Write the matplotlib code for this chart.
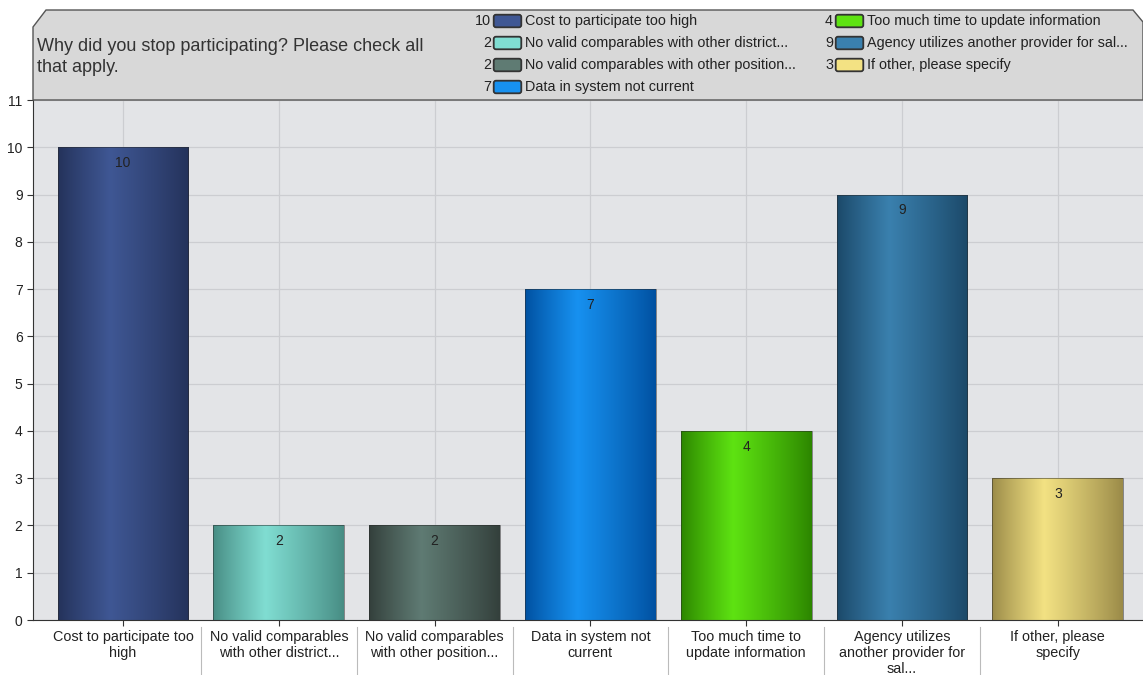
import numpy as np
import matplotlib
matplotlib.use("Agg")
import matplotlib.pyplot as plt
from matplotlib.patches import Rectangle, Polygon, FancyBboxPatch
from matplotlib.colors import to_rgb

plt.rcParams['font.family'] = ['Liberation Sans', 'DejaVu Sans']

# data
categories = ["Cost to participate too\nhigh",
              "No valid comparables\nwith other district...",
              "No valid comparables\nwith other position...",
              "Data in system not\ncurrent",
              "Too much time to\nupdate information",
              "Agency utilizes\nanother provider for\nsal...",
              "If other, please\nspecify"]
legend_names = ["Cost to participate too high",
                "No valid comparables with other district...",
                "No valid comparables with other position...",
                "Data in system not current",
                "Too much time to update information",
                "Agency utilizes another provider for sal...",
                "If other, please specify"]
counts = [10, 2, 2, 7, 4, 9, 3]
light_colors = ["#3f5794", "#80ddd2", "#5f7b73", "#1791f0", "#5ee312", "#3a80ae", "#f3e283"]
dark_colors = ["#24325a", "#478c83", "#333f3b", "#0050a0", "#2c8500", "#1b4868", "#9a8a48"]
title = "Why did you stop participating? Please check all\nthat apply."

W, H = 1143, 675
fig = plt.figure(figsize=(W / 100, H / 100), dpi=100)

def fx(px):
    return px / W

def fy(py):
    return 1 - py / H

# header panel
hdr = Polygon([(fx(33), fy(100)), (fx(33), fy(27)), (fx(46), fy(10)),
               (fx(1133), fy(10)), (fx(1143), fy(22)), (fx(1143), fy(100))],
              closed=True, transform=fig.transFigure, facecolor="#d8d8d8",
              edgecolor="#555555", linewidth=1.0)
fig.patches.append(hdr)
fig.text(fx(37), fy(57), title, fontsize=13, color="#333333", va="center",
         linespacing=1.3)

# legend
rows = [21, 43, 65, 87]
for i, (name, c) in enumerate(zip(legend_names, counts)):
    col = 0 if i < 4 else 1
    row = i if i < 4 else i - 4
    x_num = 491 if col == 0 else 833
    y = rows[row]
    fig.text(fx(x_num), fy(y), str(c), fontsize=10.4, color="#222222",
             ha="right", va="center")
    sw = FancyBboxPatch((fx(x_num + 5), fy(y + 4)), fx(23), (8 / H),
                        boxstyle="round,pad=0.002", mutation_aspect=W / H,
                        transform=fig.transFigure, facecolor=light_colors[i],
                        edgecolor="#333333", linewidth=1.3)
    fig.patches.append(sw)
    fig.text(fx(x_num + 34), fy(y), name, fontsize=10.4, color="#222222",
             ha="left", va="center")

ax = fig.add_axes([fx(33), fy(620), fx(1143) - fx(33), fy(100) - fy(620)])
ax.set_facecolor("#e3e4e7")
ax.set_xlim(-0.578, 6.547)
ax.set_ylim(0, 11)
ax.set_yticks(range(0, 12))
ax.set_xticks(range(len(categories)))
ax.set_xticklabels(categories, fontsize=10.4, color="#222222", linespacing=1.2)
ax.tick_params(axis="y", labelsize=10, labelcolor="#222222", length=4, color="#333333")
ax.tick_params(axis="x", length=4, color="#333333", pad=3)
ax.grid(True, color="#cccdd1", linewidth=0.9)
ax.set_axisbelow(True)
for s in ["top", "right"]:
    ax.spines[s].set_visible(False)
ax.spines["left"].set_color("#333333")
ax.spines["bottom"].set_color("#333333")

# gradient bars
bw = 0.84
pos = np.linspace(0, 1, 200)
for i, (v, lc, dc) in enumerate(zip(counts, light_colors, dark_colors)):
    l = np.array(to_rgb(lc))
    d = np.array(to_rgb(dc))
    t = np.where(pos < 0.4, pos / 0.4, 1 - (pos - 0.4) / 0.6)
    t = np.clip(t, 0, 1) ** 0.9
    grad = d[None, :] * (1 - t[:, None]) + l[None, :] * t[:, None]
    img = ax.imshow(grad[None, :, :], extent=(i - bw / 2, i + bw / 2, 0, v),
                    aspect="auto", zorder=2, interpolation="bilinear")
    rect = Rectangle((i - bw / 2, 0), bw, v, facecolor="none",
                     edgecolor="#2a2a2a", linewidth=0.6, zorder=3, alpha=0.6)
    ax.add_patch(rect)
    img.set_clip_path(rect)
    ax.text(i, v - 0.33, str(v), ha="center", va="center", fontsize=10,
            color="#222222", zorder=4)
ax.set_xlim(-0.578, 6.547)
ax.set_ylim(0, 11)

# separators under the axis between categories
for b in np.arange(0.5, len(categories) - 0.5, 1.0):
    ax.plot([b, b], [-0.15, -1.15], color="#bbbbbb", linewidth=0.8,
            clip_on=False, zorder=1)

fig.savefig("out.png", dpi=100)
